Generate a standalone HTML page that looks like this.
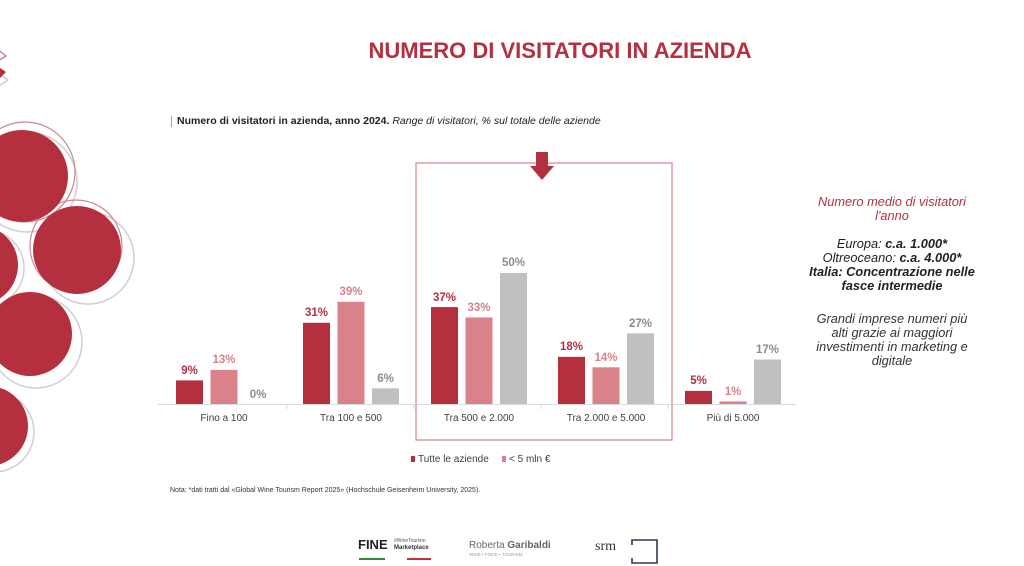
<!DOCTYPE html>
<html><head><meta charset="utf-8"><style>
html,body{margin:0;padding:0;background:#fff;}
body{width:1024px;height:566px;overflow:hidden;position:relative;font-family:"Liberation Sans",sans-serif;}
svg{position:absolute;left:0;top:0;}
.t{position:absolute;}
</style></head><body>
<svg width="1024" height="566" viewBox="0 0 1024 566">
  <g fill="none" stroke="#cfcfcf" stroke-width="1.5">
    <circle cx="27" cy="182" r="50"/>
    <circle cx="88" cy="258" r="46"/>
    <circle cx="36" cy="342" r="46"/>
    <circle cx="-6" cy="432" r="40"/>
    <circle cx="-14" cy="268" r="38"/>
  </g>
  <g fill="none" stroke="#c9888e" stroke-width="1.2">
    <circle cx="25" cy="172" r="50"/>
    <circle cx="76" cy="246" r="46"/>
  </g>
  <g fill="#b5303f">
    <circle cx="22" cy="176" r="46"/>
    <circle cx="77" cy="250" r="44"/>
    <circle cx="-22" cy="265" r="40"/>
    <circle cx="30" cy="334" r="42"/>
    <circle cx="-12" cy="426" r="40"/>
  </g>
  <g fill="none" stroke="#c9888e" stroke-width="1.5">
    <path d="M-4 62 L6 56 L-4 48"/>
  </g>
  <g fill="none" stroke="#cfcfcf" stroke-width="1.5">
    <path d="M-4 88 L8 80 L-4 72"/>
  </g>
  <path d="M0 68 L6 72 L0 78Z" fill="#b5303f"/>

  <rect x="416" y="163" width="256" height="277" fill="none" stroke="#d98289" stroke-width="1.2"/>
  <path d="M536 152 H548 V166 H554 L542 180 L530 166 H536 Z" fill="#b5303f"/>

  <line x1="158" y1="404.5" x2="796" y2="404.5" stroke="#d9d9d9" stroke-width="1"/>
  <g stroke="#d9d9d9"><line x1="287" y1="404" x2="287" y2="409"/><line x1="414" y1="404" x2="414" y2="409"/><line x1="541" y1="404" x2="541" y2="409"/><line x1="668" y1="404" x2="668" y2="409"/></g>

  <g fill="#b5303f">
    <rect x="176" y="380.4" width="27" height="23.6"/>
    <rect x="303" y="322.8" width="27" height="81.2"/>
    <rect x="431" y="307.1" width="27" height="96.9"/>
    <rect x="558" y="356.8" width="27" height="47.2"/>
    <rect x="685" y="390.9" width="27" height="13.1"/>
  </g>
  <g fill="#d98289">
    <rect x="210.5" y="369.9" width="27" height="34.1"/>
    <rect x="337.5" y="301.8" width="27" height="102.2"/>
    <rect x="465.5" y="317.5" width="27" height="86.5"/>
    <rect x="592.5" y="367.3" width="27" height="36.7"/>
    <rect x="719.5" y="401.4" width="27" height="2.6"/>
  </g>
  <g fill="#c0c0c0">
    <rect x="372" y="388.3" width="27" height="15.7"/>
    <rect x="500" y="273" width="27" height="131"/>
    <rect x="627" y="333.3" width="27" height="70.7"/>
    <rect x="754" y="359.5" width="27" height="44.5"/>
  </g>

  <g font-family="Liberation Sans, sans-serif" font-size="11.5" font-weight="bold" text-anchor="middle">
    <g fill="#b5303f">
      <text x="189.5" y="374">9%</text>
      <text x="316.5" y="316">31%</text>
      <text x="444.5" y="301">37%</text>
      <text x="571.5" y="350">18%</text>
      <text x="698.5" y="384">5%</text>
    </g>
    <g fill="#d98289">
      <text x="224" y="363">13%</text>
      <text x="351" y="295">39%</text>
      <text x="479" y="311">33%</text>
      <text x="606" y="361">14%</text>
      <text x="733" y="395">1%</text>
    </g>
    <g fill="#8c8c8c">
      <text x="258" y="398">0%</text>
      <text x="385.5" y="382">6%</text>
      <text x="513.5" y="266">50%</text>
      <text x="640.5" y="327">27%</text>
      <text x="767.5" y="353">17%</text>
    </g>
  </g>
  <g font-family="Liberation Sans, sans-serif" font-size="10" fill="#404040" text-anchor="middle">
    <text x="224" y="421">Fino a 100</text>
    <text x="351" y="421">Tra 100 e 500</text>
    <text x="479" y="421">Tra 500 e 2.000</text>
    <text x="606" y="421">Tra 2.000 e 5.000</text>
    <text x="733" y="421">Più di 5.000</text>
  </g>
  <rect x="411" y="456" width="4" height="6" fill="#b5303f"/>
  <text x="418" y="462" font-family="Liberation Sans, sans-serif" font-size="10" fill="#404040">Tutte le aziende</text>
  <rect x="502" y="456" width="4" height="6" fill="#d98289"/>
  <text x="509" y="462" font-family="Liberation Sans, sans-serif" font-size="10" fill="#404040">&lt; 5 mln €</text>

  <rect x="171" y="116" width="1" height="11" fill="#d98289"/>

  <text x="358" y="549" font-family="Liberation Sans, sans-serif" font-size="13" font-weight="bold" fill="#222">FINE</text>
  <text x="394" y="542" font-family="Liberation Sans, sans-serif" font-size="5" fill="#555">#WineTourism</text>
  <text x="394" y="549" font-family="Liberation Sans, sans-serif" font-size="6" font-weight="bold" fill="#333">Marketplace</text>
  <rect x="359" y="558" width="26" height="2" fill="#2e8b3a"/>
  <rect x="407" y="558" width="24" height="2" fill="#c0303a"/>
  <text x="469" y="548" font-family="Liberation Sans, sans-serif" font-size="10" fill="#666">Roberta <tspan font-weight="bold">Garibaldi</tspan></text>
  <text x="469" y="556" font-family="Liberation Sans, sans-serif" font-size="4.5" fill="#999">WINE • FOOD • TOURISM</text>
  <text x="595" y="550" font-family="Liberation Serif, serif" font-size="14" fill="#333">srm</text>
  <path d="M632 545 V540 H657 V563 H632 V558" fill="none" stroke="#2b3a55" stroke-width="1.6"/>
</svg>

<div class="t" style="left:0;width:1120px;top:38px;text-align:center;font-size:22px;font-weight:bold;color:#b5303f;">NUMERO DI VISITATORI IN AZIENDA</div>
<div class="t" style="left:177px;top:115px;font-size:10.5px;color:#222;white-space:nowrap;"><b>Numero di visitatori in azienda, anno 2024.</b> <i>Range di visitatori, % sul totale delle aziende</i></div>
<div class="t" style="left:782px;width:220px;top:195px;text-align:center;font-size:12.8px;line-height:14px;color:#222;">
  <div style="color:#b5303f;font-style:italic;">Numero medio di visitatori<br>l'anno</div>
  <div style="margin-top:14px;"><i>Europa:</i> <b><i>c.a. 1.000*</i></b><br><i>Oltreoceano:</i> <b><i>c.a. 4.000*</i></b><br><b><i>Italia: Concentrazione nelle<br>fasce intermedie</i></b></div>
  <div style="margin-top:19px;font-style:italic;color:#333;">Grandi imprese numeri più<br>alti grazie ai maggiori<br>investimenti in marketing e<br>digitale</div>
</div>
<div class="t" style="left:170px;top:487px;font-size:7px;color:#333;">Nota: *dati tratti dal «Global Wine Tourism Report 2025» (Hochschule Geisenheim University, 2025).</div>
</body></html>
